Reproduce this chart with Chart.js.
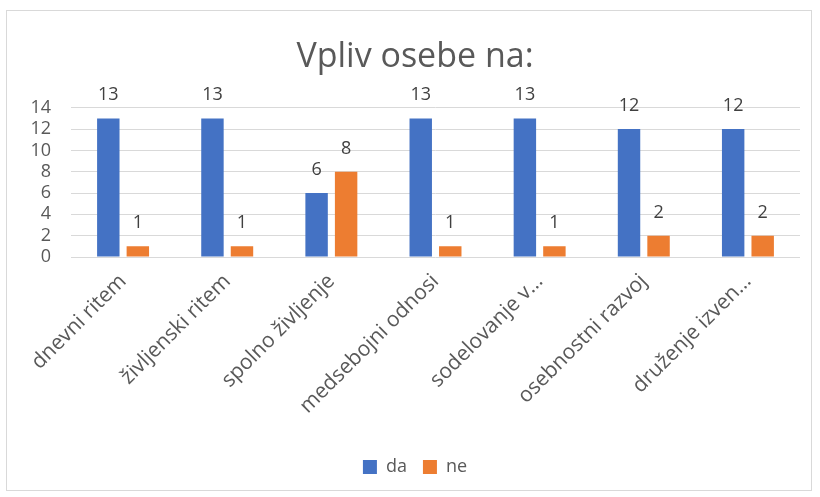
<!DOCTYPE html>
<html>
<head>
<meta charset="utf-8">
<script src="https://cdn.jsdelivr.net/npm/chart.js@4"></script>
<style>
  body { margin: 0; background: #fff; }
  #frame { position: absolute; left: 6px; top: 10px; width: 804px; height: 479px; border: 1px solid #d9d9d9; }
  #holder { position: absolute; left: 0; top: 0; width: 820px; height: 497px; }
</style>
</head>
<body>
<div id="frame"></div>
<div id="holder"><canvas id="barChart"></canvas></div>
<script>
const categories = ['dnevni ritem', 'življenski ritem', 'spolno življenje', 'medsebojni odnosi', 'sodelovanje v…', 'osebnostni razvoj', 'druženje izven…'];
const daValues = [13, 13, 6, 13, 13, 12, 12];
const neValues = [1, 1, 8, 1, 1, 2, 2];
const yTicks = [0, 2, 4, 6, 8, 10, 12, 14];

// draws the number above each bar
const valueLabels = {
    id: 'valueLabels',
    afterDatasetsDraw(chart) {
        const ctx = chart.ctx;
        ctx.save();
        ctx.font = '18px "Open Sans"';
        ctx.fillStyle = '#404040';
        ctx.textAlign = 'center';
        ctx.textBaseline = 'alphabetic';
        chart.data.datasets.forEach((ds, i) => {
            chart.getDatasetMeta(i).data.forEach((bar, j) => {
                ctx.fillText(ds.data[j], bar.x, bar.y - 18);
            });
        });
        ctx.restore();
    }
};

const ctx = document.getElementById('barChart').getContext('2d');
const myChart = new Chart(ctx, {
    type: 'bar',
    data: {
        labels: categories,
        datasets: [
            { label: 'da', data: daValues, backgroundColor: '#4472C4' },
            { label: 'ne', data: neValues, backgroundColor: '#ED7D31' }
        ]
    },
    options: {
        responsive: true,
        maintainAspectRatio: false,
        animation: false,
        categoryPercentage: 0.567,
        barPercentage: 0.76,
        layout: { padding: { left: 30, right: 20, top: 0, bottom: 11 } },
        plugins: {
            title: {
                display: true,
                text: 'Vpliv osebe na:',
                color: '#595959',
                font: { family: 'Open Sans', size: 34, weight: 'normal' },
                padding: { top: 37, bottom: 30 }
            },
            legend: {
                position: 'bottom',
                labels: {
                    color: '#595959',
                    font: { family: 'Open Sans', size: 18 },
                    boxWidth: 14,
                    boxHeight: 14,
                    padding: 16
                }
            },
            tooltip: { enabled: false }
        },
        scales: {
            x: {
                afterFit: (scale) => {
                    scale.height = 185;
                    scale.paddingLeft = 0;
                    scale.paddingRight = 0;
                },
                grid: { display: false, drawTicks: false },
                border: { display: false },
                ticks: {
                    color: '#595959',
                    font: { family: 'Open Sans', size: 21 },
                    minRotation: 45,
                    maxRotation: 45,
                    autoSkip: false,
                    padding: 12
                }
            },
            y: {
                min: 0,
                max: 14,
                afterBuildTicks: (scale) => { scale.ticks = yTicks.map(v => ({ value: v })); },
                afterFit: (scale) => { scale.width = 41; },
                grid: { color: '#d9d9d9', lineWidth: 1, drawTicks: false },
                border: { display: false },
                ticks: {
                    color: '#595959',
                    font: { family: 'Open Sans', size: 18 },
                    padding: 20,
                    autoSkip: false
                }
            }
        }
    },
    plugins: [valueLabels]
});
</script>
</body>
</html>
